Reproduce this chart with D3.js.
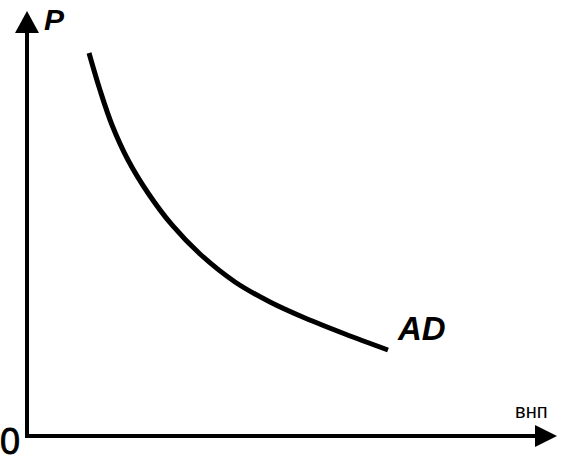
<!DOCTYPE html>
<html><head><meta charset="utf-8">
<script src="https://cdn.jsdelivr.net/npm/d3@7"></script>
<style>body{margin:0;background:#fff}svg{display:block}</style>
</head><body>
<svg id="c" width="573" height="473"></svg>
<script>
// AD curve: real GNP (x) vs price level P (y), arbitrary units 0..100
const gnp   = [11.70, 13.77, 16.04, 19.06, 22.83, 27.36, 32.64, 39.25, 45.85, 52.45, 60.00, 68.11];
const price = [90.12, 81.41, 73.18, 64.94, 57.18, 49.65, 42.82, 36.24, 31.53, 27.76, 24.00, 20.24];
const labels = { y: "P", x: "внп", origin: "0", curve: "AD" };

const svg = d3.select("#c");
const x = d3.scaleLinear().domain([0, 100]).range([27, 557]);
const y = d3.scaleLinear().domain([0, 100]).range([436, 11]);

// axes
svg.append("line").attr("x1", x(0)).attr("y1", y(0) + 2).attr("x2", x(0)).attr("y2", y(100) + 18)
  .attr("stroke", "#000").attr("stroke-width", 4);
svg.append("line").attr("x1", x(0) - 2).attr("y1", y(0)).attr("x2", x(100) - 18).attr("y2", y(0))
  .attr("stroke", "#000").attr("stroke-width", 4);
// arrowheads
svg.append("path").attr("d", `M${x(0)},${y(100)} L${x(0)-12},${y(100)+22} L${x(0)+12},${y(100)+22} Z`).attr("fill", "#000");
svg.append("path").attr("d", `M${x(100)},${y(0)} L${x(100)-22},${y(0)-11} L${x(100)-22},${y(0)+11} Z`).attr("fill", "#000");

// curve
const pts = gnp.map((g, i) => [g, price[i]]);
svg.append("path").datum(pts)
  .attr("d", d3.line().x(d => x(d[0])).y(d => y(d[1])).curve(d3.curveCatmullRom.alpha(0.5)))
  .attr("fill", "none").attr("stroke", "#000").attr("stroke-width", 5);

// labels
const ff = "'Liberation Sans', Arial, sans-serif";
svg.append("text").attr("x", 44).attr("y", 30).text(labels.y)
  .attr("font-family", ff).attr("font-weight", "bold").attr("font-style", "italic").attr("font-size", 30);
svg.append("text").attr("x", 0).attr("y", 454).text(labels.origin)
  .attr("font-family", ff).attr("font-size", 36).attr("stroke", "#000").attr("stroke-width", 0.8);
svg.append("text").attr("x", 515).attr("y", 418).text(labels.x)
  .attr("font-family", ff).attr("font-size", 20);
svg.append("text").attr("x", 398).attr("y", 340).text(labels.curve)
  .attr("font-family", ff).attr("font-weight", "bold").attr("font-style", "italic").attr("font-size", 33);
</script>
</body></html>
